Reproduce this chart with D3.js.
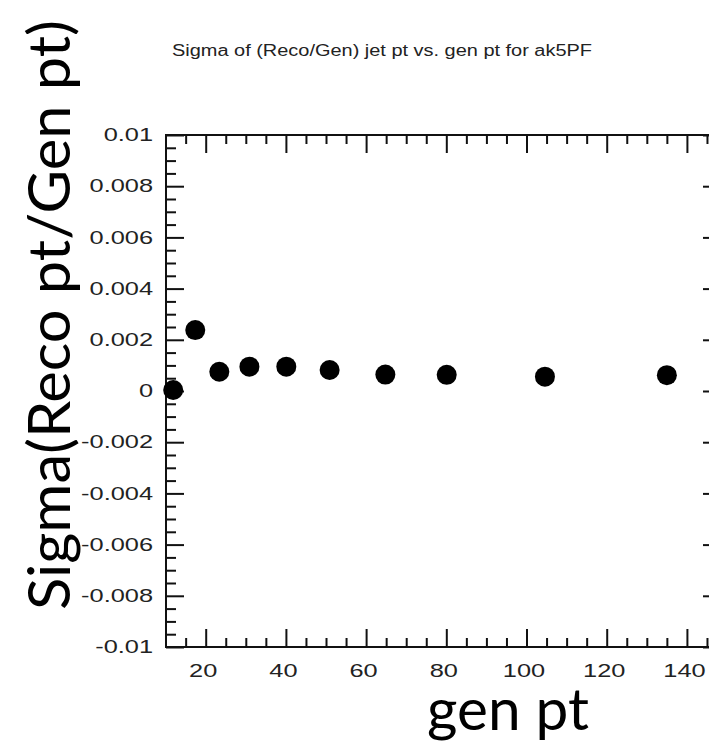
<!DOCTYPE html>
<html>
<head>
<meta charset="utf-8">
<script src="https://cdn.jsdelivr.net/npm/d3@7"></script>
<style>
  html, body { margin: 0; padding: 0; background: #fff; overflow: hidden; }
  svg { display: block; }
</style>
</head>
<body>
<div id="chart"></div>
<script>
// values
const genPt = [11.9, 17.4, 23.4, 30.9, 40.1, 50.9, 64.8, 80.1, 104.6, 135.0];
const sigma = [0.00004, 0.00238, 0.00075, 0.00095, 0.00095, 0.00082, 0.00064, 0.00063, 0.00056, 0.00062];
const xMajorTicks = [20, 40, 60, 80, 100, 120, 140];
const xMinorTicks = d3.range(15, 150, 5).filter(v => v % 20 !== 0);
const yMajorTicks = [-0.01, -0.008, -0.006, -0.004, -0.002, 0, 0.002, 0.004, 0.006, 0.008, 0.01];
const yMinorTicks = d3.range(-0.0095, 0.01, 0.0005).filter(v => Math.abs(v / 0.002 - Math.round(v / 0.002)) > 0.01);

const W = 709, H = 744;
// right side of the frame runs past the window edge, as in the original
const frame = { left: 166, right: 721, top: 135, bottom: 647 };
const stretch = 1.45; // tick labels in the picture are wider than tall

var svg = d3.select("#chart").append("svg")
  .attr("width", W)
  .attr("height", H);

svg.append("rect").attr("width", W).attr("height", H).attr("fill", "#fff");

var x = d3.scaleLinear().domain([10.1, 148.5]).range([frame.left, frame.right]);
var y = d3.scaleLinear().domain([-0.01, 0.01]).range([frame.bottom, frame.top]);

function styleAxis(g) {
  g.select(".domain").remove();
  g.selectAll(".tick line").attr("stroke", "#111").attr("stroke-width", 2);
}

// plain hyphen for negatives, like the original
function yFormat(d) {
  if (Math.abs(d) < 1e-12) return "0";
  return String(+d.toFixed(3));
}

var frameH = frame.bottom - frame.top;
var frameW = frame.right - frame.left;

// ticks pointing inward on all four sides
// bottom
svg.append("g").attr("transform", "translate(0," + frame.bottom + ")")
  .call(d3.axisBottom(x).tickValues(xMinorTicks).tickSize(-9).tickFormat(""))
  .call(styleAxis);
var gxb = svg.append("g").attr("transform", "translate(0," + frame.bottom + ")")
  .call(d3.axisBottom(x).tickValues(xMajorTicks).tickSize(-18).tickPadding(18).tickFormat(d3.format("d")))
  .call(styleAxis);
// top
svg.append("g").attr("transform", "translate(0," + frame.top + ")")
  .call(d3.axisTop(x).tickValues(xMinorTicks).tickSize(-9).tickFormat(""))
  .call(styleAxis);
svg.append("g").attr("transform", "translate(0," + frame.top + ")")
  .call(d3.axisTop(x).tickValues(xMajorTicks).tickSize(-18).tickFormat(""))
  .call(styleAxis);
// left
svg.append("g").attr("transform", "translate(" + frame.left + ",0)")
  .call(d3.axisLeft(y).tickValues(yMinorTicks).tickSize(-10).tickFormat(""))
  .call(styleAxis);
var gyl = svg.append("g").attr("transform", "translate(" + frame.left + ",0)")
  .call(d3.axisLeft(y).tickValues(yMajorTicks).tickSize(-18).tickFormat(yFormat))
  .call(styleAxis);
// right
svg.append("g").attr("transform", "translate(" + frame.right + ",0)")
  .call(d3.axisRight(y).tickValues(yMinorTicks).tickSize(-10).tickFormat(""))
  .call(styleAxis);
svg.append("g").attr("transform", "translate(" + frame.right + ",0)")
  .call(d3.axisRight(y).tickValues(yMajorTicks).tickSize(-18).tickFormat(""))
  .call(styleAxis);

// tick label look
[gxb, gyl].forEach(function (g) {
  g.selectAll(".tick text")
    .attr("font-family", "'Liberation Sans', Arial, sans-serif")
    .attr("font-size", 17.5)
    .attr("fill", "#222");
});
gxb.selectAll(".tick text")
  .attr("x", -3 / stretch)
  .attr("transform", "scale(" + stretch + ",1)");
gyl.selectAll(".tick text")
  .attr("x", -13 / stretch)
  .attr("transform", "scale(" + stretch + ",1)");

// frame
svg.append("rect")
  .attr("x", frame.left).attr("y", frame.top)
  .attr("width", frameW).attr("height", frameH)
  .attr("fill", "none").attr("stroke", "#111").attr("stroke-width", 2);

// points
svg.append("g").selectAll("circle")
  .data(genPt)
  .enter()
  .append("circle")
  .attr("cx", function (d) { return x(d); })
  .attr("cy", function (d, i) { return y(sigma[i]); })
  .attr("r", 10)
  .attr("fill", "#000");

// title
svg.append("text")
  .attr("x", 172).attr("y", 56)
  .attr("font-family", "'Liberation Sans', Arial, sans-serif")
  .attr("font-size", 16)
  .attr("fill", "#222")
  .attr("textLength", 420)
  .attr("lengthAdjust", "spacingAndGlyphs")
  .text("Sigma of (Reco/Gen) jet pt vs. gen pt for ak5PF");

// big axis titles
svg.append("text")
  .attr("transform", "translate(70,610) rotate(-90)")
  .attr("font-family", "Lato, 'Open Sans', sans-serif")
  .attr("font-size", 58)
  .attr("fill", "#000")
  .attr("textLength", 590)
  .attr("lengthAdjust", "spacingAndGlyphs")
  .text("Sigma(Reco pt/Gen pt)");

svg.append("text")
  .attr("x", 427).attr("y", 730)
  .attr("font-family", "Lato, 'Open Sans', sans-serif")
  .attr("font-size", 58)
  .attr("fill", "#000")
  .attr("textLength", 162)
  .attr("lengthAdjust", "spacingAndGlyphs")
  .text("gen pt");
</script>
</body>
</html>
